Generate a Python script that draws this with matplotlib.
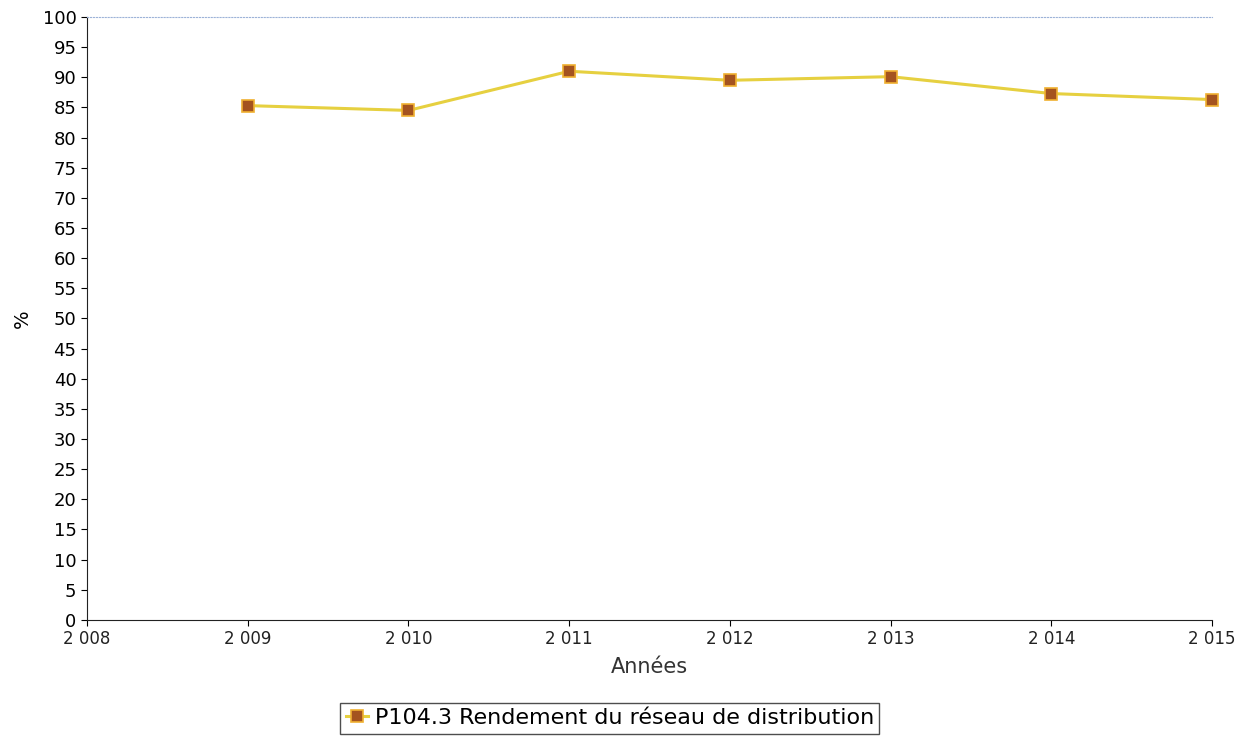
import matplotlib
matplotlib.use("Agg")
import matplotlib.pyplot as plt

# values
years = [2009, 2010, 2011, 2012, 2013, 2014, 2015]
rendement = [85.3, 84.5, 91.0, 89.5, 90.1, 87.3, 86.3]
x_ticks = [2008, 2009, 2010, 2011, 2012, 2013, 2014, 2015]
x_labels = ["2 008", "2 009", "2 010", "2 011", "2 012", "2 013", "2 014", "2 015"]
y_ticks = list(range(0, 101, 5))
series_name = "P104.3 Rendement du réseau de distribution"


def main():
    fig = plt.figure(figsize=(12.42, 7.38), dpi=100)
    ax = fig.add_axes([0.070, 0.160, 0.906, 0.817])

    ax.plot(years, rendement, color="#e6d040", linewidth=2.2,
            marker="s", markersize=9, markerfacecolor="#a4531f",
            markeredgecolor="#f0b030", markeredgewidth=1.2,
            label=series_name, clip_on=False, zorder=3)

    ax.set_xlim(2008, 2015)
    ax.set_ylim(0, 100)
    ax.set_xticks(x_ticks)
    ax.set_xticklabels(x_labels, fontsize=12, color="#222222")
    ax.set_yticks(y_ticks)
    ax.tick_params(axis="y", labelsize=13, length=4)
    ax.tick_params(axis="x", length=4)

    ax.spines["top"].set_color("#9db3d8")
    ax.spines["top"].set_linestyle(":")
    ax.spines["right"].set_visible(False)
    ax.spines["left"].set_color("#222222")
    ax.spines["bottom"].set_color("#222222")

    ax.set_ylabel("%", fontsize=14, labelpad=8)
    ax.set_xlabel("Années", fontsize=15, color="#333333", labelpad=6)

    fig.legend(loc="center", bbox_to_anchor=(0.491, 0.027), fontsize=16,
               frameon=True, fancybox=False, edgecolor="#222222",
               handlelength=1.0, handletextpad=0.3, borderpad=0.25,
               borderaxespad=0)

    fig.savefig("out.png", dpi=100, facecolor="white")


if __name__ == "__main__":
    main()
